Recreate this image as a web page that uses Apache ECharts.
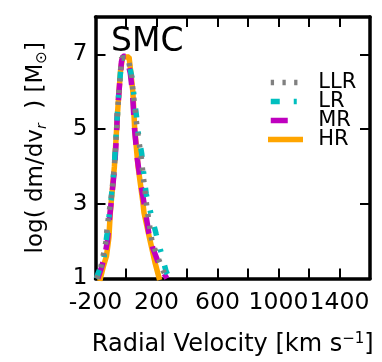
<!DOCTYPE html>
<html>
<head>
<meta charset="utf-8">
<script src="https://cdn.jsdelivr.net/npm/echarts@6/dist/echarts.min.js"></script>
<style>
html,body{margin:0;padding:0;background:#fff;}
#c{width:382px;height:362px;}
</style>
</head>
<body>
<div id="c"></div>
<script>
// ---- data ----
const seriesNames = ['LLR', 'LR', 'MR', 'HR'];

const llrVel  = [-192,-165,-150,-131,-125,-110,-98,-76,-63,-47,-29,14,36,52,75,100,110,137,157,170,205,245,270];
const llrLogM = [1.0,1.3,1.6,2.0,2.3,2.8,3.1,4.0,4.9,6.0,6.9,6.9,6.4,5.8,4.95,4.25,3.85,2.9,2.35,2.0,1.6,1.2,1.0];

const lrVel  = [-195,-172,-148,-124,-110,-98,-77,-64,-47,-28,12,38,55,70,80,103,115,132,165,197,230,262,285];
const lrLogM = [1.0,1.25,1.45,2.2,2.7,3.1,4.0,4.9,6.0,6.9,6.9,6.4,5.8,5.3,4.9,4.34,3.85,3.27,2.71,2.2,1.7,1.2,1.0];

const mrVel  = [-185,-164,-140,-122,-106,-96,-74,-62,-57,-46,-30,-20,2,28,42,56,74,96,125,150,177,205,240,268];
const mrLogM = [1.0,1.25,1.6,2.0,2.7,3.08,4.0,4.86,5.4,6.0,6.8,6.95,6.95,6.5,6.0,5.0,4.2,3.57,2.85,2.2,1.8,1.5,1.2,1.0];

const hrVel  = [-168,-150,-128,-112,-103,-97,-76,-63,-56,-46,-35,-22,20,32,45,57,79,111,118,151,190,216];
const hrLogM = [1.0,1.3,1.6,2.1,2.76,3.05,4.0,4.9,5.4,6.0,6.6,6.93,6.93,6.5,6.0,5.0,4.0,3.03,2.76,2.14,1.43,1.03];

const xTicks = [-200,0,200,400,600,800,1000,1200,1400,1600];
const xTickLabels = [-200,200,600,1000,1400];
const yTicks = [1,3,5,7];

// ---- chart ----
const FONT = 'DejaVu Sans';
const pair = (xs, ys) => xs.map((x, i) => [x, ys[i]]);

const tickStyle = {show: true, inside: true, length: 10, lineStyle: {color: '#000', width: 2}};
const lineStyleAxis = {show: true, onZero: false, lineStyle: {color: '#000', width: 3.5}};

const chart = echarts.init(document.getElementById('c'), null, {renderer: 'canvas'});
chart.setOption({
  animation: false,
  backgroundColor: '#fff',
  grid: {left: 95.5, right: 12, top: 17, bottom: 81, containLabel: false},
  graphic: [{
    type: 'text', left: 111, top: 26,
    style: {text: 'SMC', fontFamily: FONT, fontSize: 33, fill: '#000'}
  }],
  legend: {
    data: seriesNames,
    orient: 'vertical',
    left: 268, top: 72, padding: 0,
    itemWidth: 29.5, itemHeight: 10, itemGap: -2,
    itemStyle: {opacity: 0},
    lineStyle: {width: 'inherit'},
    textStyle: {fontFamily: FONT, fontSize: 21, color: '#000', padding: [0,0,0,13]},
    selectedMode: false
  },
  xAxis: [{
    type: 'value', position: 'bottom', min: -200, max: 1600,
    axisLine: lineStyleAxis,
    axisTick: Object.assign({customValues: xTicks}, tickStyle),
    axisLabel: {customValues: xTickLabels, margin: 12, hideOverlap: false, formatter: v => String(v),
      fontFamily: FONT, fontSize: 23.5, color: '#000'},
    splitLine: {show: false},
    name: '{a|Radial Velocity [km s}{p|−1}{a|]}',
    nameLocation: 'middle', nameGap: 53,
    nameTextStyle: {fontFamily: FONT, fontSize: 24, color: '#000',
      rich: {a: {fontFamily: FONT, fontSize: 24, color: '#000', lineHeight: 27},
             p: {fontFamily: FONT, fontSize: 15, color: '#000', verticalAlign: 'top', lineHeight: 27}}}
  }, {
    type: 'value', position: 'top', min: -200, max: 1600,
    axisLine: lineStyleAxis,
    axisTick: Object.assign({customValues: xTicks}, tickStyle),
    axisLabel: {show: false},
    splitLine: {show: false}
  }],
  yAxis: [{
    type: 'value', position: 'left', min: 1, max: 8,
    axisLine: lineStyleAxis,
    axisTick: Object.assign({customValues: yTicks}, tickStyle),
    axisLabel: {customValues: yTicks, margin: 8, fontFamily: FONT, fontSize: 23, color: '#000'},
    splitLine: {show: false},
    name: '{a|log( dm/dv}{s|r}{a|  ) [M}{o|⊙}{a|]}',
    nameLocation: 'middle', nameGap: 46, nameRotate: 90,
    nameTextStyle: {fontFamily: FONT, fontSize: 23, color: '#000',
      rich: {a: {fontFamily: FONT, fontSize: 23, color: '#000', lineHeight: 26},
             s: {fontFamily: FONT, fontSize: 14, fontStyle: 'italic', color: '#000', verticalAlign: 'bottom', lineHeight: 26},
             o: {fontFamily: FONT, fontSize: 15, color: '#000', verticalAlign: 'bottom', lineHeight: 26}}}
  }, {
    type: 'value', position: 'right', min: 1, max: 8,
    axisLine: lineStyleAxis,
    axisTick: Object.assign({customValues: yTicks}, tickStyle),
    axisLabel: {show: false},
    splitLine: {show: false}
  }],
  series: [
    {name: 'HR', type: 'line', data: pair(hrVel, hrLogM), showSymbol: false, symbol: 'none',
     color: '#ffa500', lineStyle: {color: '#ffa500', width: 5.5, cap: 'square'}},
    {name: 'MR', type: 'line', data: pair(mrVel, mrLogM), showSymbol: false, symbol: 'none',
     color: '#bf00bf', lineStyle: {color: '#bf00bf', width: 5.5, type: [17, 13]}},
    {name: 'LR', type: 'line', data: pair(lrVel, lrLogM), showSymbol: false, symbol: 'none',
     color: '#00bfbf', lineStyle: {color: '#00bfbf', width: 5.5, type: [9, 14, 3, 14]}},
    {name: 'LLR', type: 'line', data: pair(llrVel, llrLogM), showSymbol: false, symbol: 'none',
     color: '#808080', lineStyle: {color: '#808080', width: 5.5, type: [3.3, 8.4]}}
  ]
});
</script>
</body>
</html>
